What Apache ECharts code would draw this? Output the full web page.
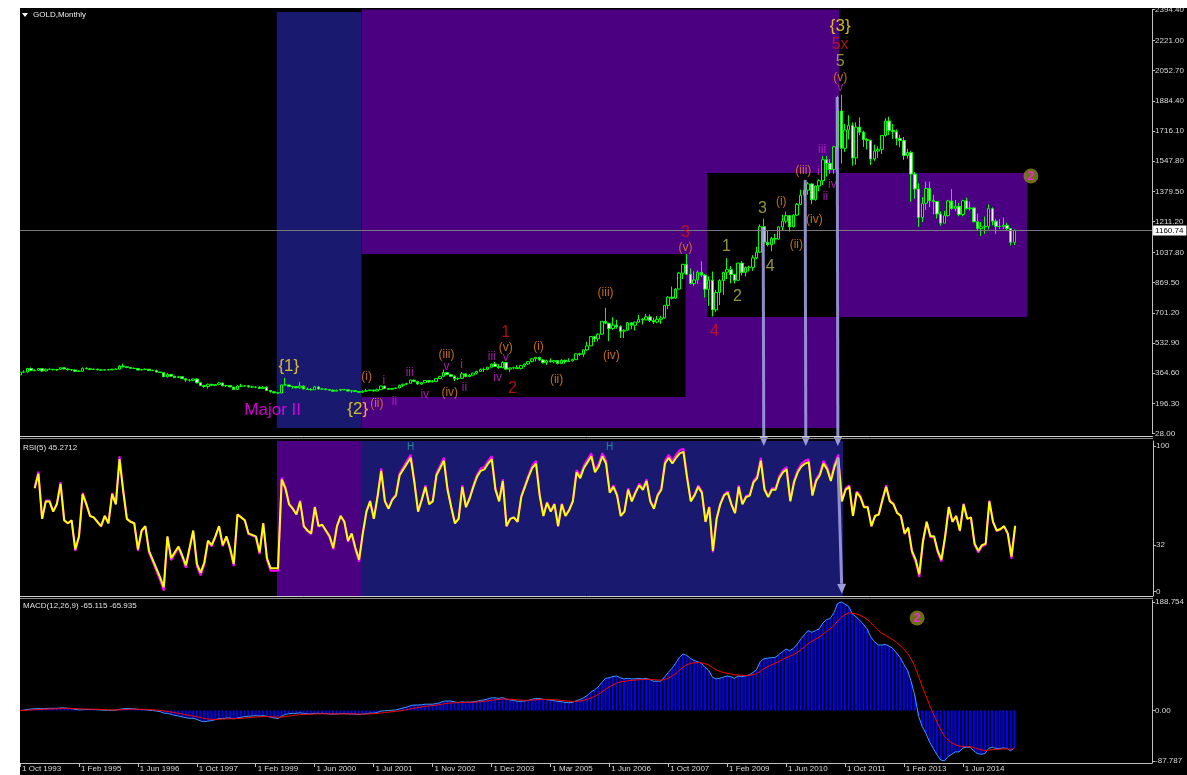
<!DOCTYPE html>
<html><head><meta charset="utf-8">
<script src="https://cdn.jsdelivr.net/npm/echarts@6/dist/echarts.min.js"></script>
<style>html,body{margin:0;padding:0;background:#fff;}#c{width:1187px;height:775px;}</style>
</head><body><div id="c"></div>
<script>
// ---------------- DATA ----------------
const tickLabels = ['1 Oct 1993','1 Feb 1995','1 Jun 1996','1 Oct 1997','1 Feb 1999','1 Jun 2000','1 Jul 2001','1 Nov 2002','1 Dec 2003','1 Mar 2005','1 Jun 2006','1 Oct 2007','1 Feb 2009','1 Jun 2010','1 Oct 2011','1 Feb 2013','1 Jun 2014'];
const barsPerLabel = 16;
const priceTicks = [28,196.3,364.6,532.9,701.2,869.5,1037.8,1211.2,1379.5,1547.8,1716.1,1884.4,2052.7,2221.0,2394.4];
const rsiTicks = [0,32,100];
const macdTicks = [-87.787,0,188.754];
const bid = 1160.74;
// monthly candles [open, close, low, high]
const candles = [
[355,370,352,372],[370,371,367,380],[371,391,368,392],[391,379,376,396],[379,381,375,386],[381,390,377,392],[390,377,371,392],[377,387,375,389],[387,386,383,392],[386,384,380,389],
[384,386,377,387],[386,395,386,398],[395,388,386,397],[388,384,379,392],[384,383,376,385],[383,375,372,384],[375,376,371,381],[376,392,373,396],[392,389,387,397],[389,385,383,393],
[385,387,385,391],[387,383,381,390],[383,382,380,387],[382,384,381,386],[384,383,381,387],[383,387,382,389],[387,387,385,389],[387,405,387,410],[405,400,398,417],[400,396,393,400],
[396,392,389,397],[392,391,389,395],[391,382,381,391],[382,385,381,389],[385,387,384,390],[387,379,377,388],[379,379,377,385],[379,371,370,384],[371,369,366,373],[369,345,345,370],
[345,358,340,366],[358,348,347,359],[348,340,337,348],[340,345,338,350],[345,334,333,346],[334,326,316,335],[326,325,318,331],[325,332,320,334],[332,311,307,336],[311,296,295,315],
[296,290,283,300],[290,303,278,306],[303,297,294,304],[297,301,292,303],[301,310,300,316],[310,294,292,311],[294,296,287,300],[296,288,287,297],[288,273,272,289],[273,293,272,298],
[293,292,287,305],[292,294,290,299],[294,288,285,298],[288,287,283,294],[287,287,281,292],[287,279,277,291],[279,286,278,292],[286,268,267,291],[268,261,257,270],[261,255,252,265],
[255,254,251,258],[254,299,253,300],[299,299,295,338],[299,291,288,300],[291,290,278,294],[290,283,280,292],[283,293,279,316],[293,276,275,297],[276,274,272,284],[274,272,268,281],
[272,288,271,294],[288,276,275,291],[276,277,271,281],[277,273,269,280],[273,270,268,275],[270,264,263,273],[264,270,263,272],[270,274,264,276],[274,272,270,276],[272,265,262,273],
[265,267,255,270],[267,262,260,268],[262,258,256,265],[258,264,255,268],[264,267,262,277],[267,271,265,273],[271,265,263,272],[265,273,264,278],[273,293,271,294],[293,279,276,293],
[279,275,271,280],[275,279,272,281],[279,282,277,284],[282,297,281,301],[297,303,288,305],[303,308,300,310],[308,326,307,328],[326,318,315,329],[318,304,301,322],[304,312,300,315],
[312,324,311,326],[324,316,312,325],[316,318,314,326],[318,335,317,336],[335,347,332,349],[347,368,342,385],[368,356,354,372],[356,347,343,360],[347,334,320,352],[334,336,326,341],
[336,361,333,371],[361,346,341,365],[346,354,342,359],[354,365,352,366],[365,375,357,378],[375,385,372,391],[385,386,371,396],[386,398,381,400],[398,416,397,417],[416,402,399,427],
[402,396,390,415],[396,424,392,431],[424,387,385,428],[387,394,371,396],[394,395,386,401],[395,391,387,409],[391,408,385,410],[408,416,398,418],[416,429,411,431],[429,445,425,447],
[445,453,430,455],[453,438,432,456],[438,423,418,443],[423,434,411,440],[434,428,425,447],[428,435,420,438],[435,418,414,437],[418,437,416,443],[437,429,418,439],[429,433,428,448],
[433,440,431,446],[440,473,438,474],[473,470,460,479],[470,495,456,497],[495,517,490,540],[517,569,516,570],[569,556,538,574],[556,582,542,587],[582,654,580,656],[654,643,639,730],
[643,614,543,645],[614,633,606,677],[633,624,613,663],[624,599,561,632],[599,604,560,610],[604,646,604,650],[646,632,610,649],[632,650,603,652],[650,665,646,690],[665,662,636,672],
[662,679,660,695],[679,659,650,692],[659,650,640,674],[650,665,643,683],[665,673,640,685],[673,743,670,745],[743,789,722,795],[789,783,776,848],[783,834,780,840],[834,923,832,930],
[923,972,890,975],[972,917,912,1030],[917,865,860,950],[865,885,851,934],[885,928,862,939],[928,912,902,989],[912,833,786,918],[833,884,740,905],[884,718,681,932],[718,815,705,829],
[815,882,745,889],[882,928,801,930],[928,942,890,1007],[942,916,866,963],[916,883,865,918],[883,979,882,980],[979,927,910,990],[927,954,905,960],[954,955,932,965],[955,1008,936,1023],
[1008,1040,1000,1070],[1040,1182,1035,1195],[1182,1096,1075,1227],[1096,1081,1072,1162],[1081,1117,1045,1126],[1117,1113,1087,1142],[1113,1180,1110,1185],[1180,1213,1160,1249],[1213,1244,1200,1266],[1244,1181,1155,1245],
[1181,1247,1179,1251],[1247,1307,1243,1314],[1307,1358,1307,1388],[1358,1386,1330,1424],[1386,1421,1360,1432],[1421,1333,1308,1424],[1333,1410,1328,1411],[1410,1439,1380,1447],[1439,1556,1415,1576],[1556,1536,1462,1577],
[1536,1501,1477,1560],[1501,1628,1478,1632],[1628,1828,1605,1913],[1828,1620,1535,1920],[1620,1722,1600,1755],[1722,1746,1670,1804],[1746,1566,1523,1764],[1566,1738,1528,1764],[1738,1710,1692,1792],[1710,1669,1627,1718],
[1669,1664,1613,1676],[1664,1560,1527,1667],[1560,1604,1550,1640],[1604,1614,1565,1631],[1614,1691,1588,1693],[1691,1772,1685,1788],[1772,1719,1694,1796],[1719,1712,1672,1755],[1712,1675,1636,1725],[1675,1663,1626,1695],
[1663,1579,1555,1683],[1579,1596,1562,1617],[1596,1476,1321,1605],[1476,1393,1338,1487],[1393,1234,1180,1424],[1234,1313,1208,1348],[1313,1395,1275,1434],[1395,1327,1291,1433],[1327,1323,1251,1361],[1323,1253,1227,1324],
[1253,1202,1187,1267],[1202,1244,1202,1270],[1244,1326,1238,1332],[1326,1284,1277,1392],[1284,1296,1268,1331],[1296,1250,1240,1315],[1250,1327,1240,1332],[1327,1282,1280,1345],[1282,1287,1273,1322],[1287,1210,1206,1291],
[1210,1172,1160,1255],[1172,1182,1131,1208],[1182,1184,1142,1239],[1184,1283,1167,1307],[1283,1213,1190,1290],[1213,1183,1142,1224],[1183,1184,1170,1224],[1184,1190,1169,1232],[1190,1172,1162,1205],[1172,1095,1077,1175],
[1095,1160.74,1080,1168]
];
const rsi5 = [null,null,null,null,
71,81,50,62,62,55,60,74,49,47,
49,29,38,67,60,52,51,48,45,52,
47,67,60,91,69,50,48,47,29,42,
45,28,22,16,10,3,38,23,27,31,
25,18,30,42,19,13,20,35,32,38,
45,32,38,30,19,53,51,49,40,39,
38,27,47,23,16,16,16,77,71,60,
57,53,62,45,42,40,58,45,46,42,
38,30,45,52,48,35,40,30,22,40,
55,62,50,65,83,62,57,63,66,80,
84,88,92,75,55,63,72,60,62,80,
85,90,70,58,47,50,72,58,64,72,
79,83,84,88,91,70,62,76,45,50,
51,48,65,72,79,85,88,66,52,61,
55,60,45,60,52,56,62,82,78,85,
89,93,82,86,93,88,68,72,66,52,
55,70,62,68,73,70,76,62,57,66,
70,88,92,88,92,95,96,78,62,66,
72,68,48,58,28,50,60,66,68,60,
54,72,60,65,66,75,78,90,70,65,
70,70,78,82,84,62,75,82,86,88,
89,66,76,80,88,84,76,86,92,62,
70,72,52,68,65,58,58,45,52,53,
63,72,62,60,54,52,40,44,28,22,
12,35,48,38,38,28,22,38,58,48,
52,42,60,50,51,33,28,32,33,62,
48,42,43,45,40,24,45.27];
const macdMain = [
0,0.5,2,2.5,3,3.5,3,3.5,3.8,3.8,
3.8,4.5,4.5,4,3.3,2,1,1.5,1.8,1.8,
1.8,1.3,0.8,0.6,0.3,0.4,0.5,2,3,3.5,
3.3,3,2,1.5,1.3,0.5,0,-1,-1.8,-4.5,
-5,-6.5,-8.5,-9.5,-11,-12.5,-13.5,-13.5,-15.5,-18,
-19.5,-18.5,-17.5,-16,-14,-14,-13,-13,-14.5,-13,
-12,-10.5,-10,-9.5,-9,-9.5,-9,-10,-11.5,-13,
-14,-10,-7,-5.5,-5,-5,-4,-5,-5.5,-6,
-5,-5,-5,-5.5,-6,-6.5,-6,-5.5,-5.5,-6,
-6,-6.5,-7,-6.5,-5.5,-4.5,-4.5,-3.5,-1,-0.5,
0,0.5,1,2.5,4.5,6,8.5,9.5,9.5,10,
11,11,11,12,13.5,16,16.5,16.5,15,14,
15,14.5,14.5,15,16,17.5,18.5,20,22,22,
21,22.5,20,18.5,17.5,16,16,16.5,17.5,19.5,
21,21,19.5,19,18,17.5,15.5,15.5,14,13.5,
14,17,19,22,26,32,36,41,49,56,
57,59,60,57,55,56,55,55,56,55,
56,54,51,51,51,58,66,73,82,92,
98,96,91,87,85,82,75,70,58,55,
56,58,60,59,56,60,59,60,62,66,
71,85,90,91,92,92,97,102,107,104,
108,115,124,132,139,136,139,142,152,158,
160,170,186,188.754,185,181,168,163,157,150,
142,128,120,114,114,115,112,108,100,92,
80,70,50,25,-10,-28,-40,-55,-66,-77,
-86,-87.787,-80,-76,-72,-72,-65,-64,-64,-70,
-75,-76,-75,-66,-64,-66,-66,-65,-66,-70,
-65.115];
const macdSignal = [
0,0.1,0.5,0.9,1.3,1.7,2,2.3,2.6,2.8,
3,3.3,3.5,3.6,3.6,3.3,2.9,2.6,2.4,2.3,
2.2,2,1.8,1.5,1.3,1.1,1,1.2,1.5,1.9,
2.2,2.3,2.2,2.1,1.9,1.6,1.3,0.8,0.3,-0.7,
-1.6,-2.6,-3.8,-4.9,-6.1,-7.4,-8.6,-9.6,-10.8,-12.2,
-13.7,-14.7,-15.3,-15.5,-15.2,-15,-14.6,-14.3,-14.3,-14,
-13.6,-13,-12.4,-11.8,-11.3,-10.9,-10.6,-10.5,-10.7,-11.1,
-11.7,-11.4,-10.5,-9.5,-8.6,-7.9,-7.1,-6.7,-6.5,-6.4,
-6.1,-5.9,-5.7,-5.7,-5.8,-5.9,-6,-5.9,-5.8,-5.8,
-5.8,-6,-6.2,-6.3,-6.1,-5.8,-5.5,-5.1,-4.3,-3.5,
-2.8,-2.1,-1.5,-0.7,0.3,1.4,2.8,4.1,5.2,6.2,
7.2,8,8.6,9.3,10.2,11.4,12.4,13.2,13.6,13.7,
14,14.1,14.2,14.4,14.7,15.3,16,16.8,17.8,18.7,
19.1,19.8,19.8,19.5,19.1,18.5,18,17.7,17.7,18.1,
18.7,19.1,19.2,19.2,19,18.7,18.1,17.5,16.8,16.1,
15.7,15.9,16.5,17.6,19.3,21.8,24.6,27.9,32.1,36.9,
40.9,44.5,47.6,49.5,50.6,51.7,52.4,52.9,53.5,53.8,
54.2,54.2,53.6,53.1,52.7,53.8,56.2,59.6,64,69.6,
75.3,79.5,81.8,82.9,83.3,83,81.4,79.1,74.9,70.9,
67.9,66,64.8,63.6,62.1,61.7,61.2,60.9,61.2,62.2,
64,68.2,72.6,76.2,79.4,81.9,84.9,88.3,92,94.4,
97.1,100.7,105.4,110.7,116.4,120.3,124,127.6,132.5,137.6,
142.1,147.7,155.4,162.1,166.7,169.6,169.3,168.1,165.9,162.7,
158.6,152.5,146,139.6,134.5,130.6,126.9,123.1,118.5,113.2,
106.6,99.3,89.4,76.5,59.2,41.8,25.4,9.3,-5.8,-20,
-33.2,-44.1,-51.3,-56.2,-59.4,-61.9,-62.5,-62.8,-63,-64.4,
-66.5,-68.4,-69.7,-69,-68,-67.6,-67.3,-66.9,-66.7,-67.4,
-65.935];
// Elliott-wave annotations: [text, bar, price, style]
const notes = [
['{1}',73.0,405,'curly'],['Major II',68.6,159,'major'],['{2}',91.7,165,'curly'],
['(i)',94.1,343,'orange'],['(ii)',96.9,193,'orange'],['i',98.8,321,'mag'],['ii',101.7,204,'mag'],
['iii',105.8,366,'mag'],['iv',109.9,243,'mag'],['(iii)',115.8,466,'orange'],['v',115.8,399,'mag'],
['(iv)',116.7,254,'orange'],['i',119.9,410,'mag'],['ii',120.7,282,'mag'],['iii',128.1,455,'mag'],
['iv',129.7,338,'mag'],['1',131.9,589,'red'],['(v)',131.9,505,'orange'],['v',131.9,449,'mag'],
['2',133.7,276,'red'],['(i)',140.8,511,'orange'],['(ii)',145.7,327,'orange'],['(iii)',159,812,'orange'],
['(iv)',160.6,460,'orange'],['3',180.7,1147,'red'],['(v)',180.7,1063,'orange'],['4',188.6,594,'red'],
['1',191.8,1069,'olive'],['2',194.8,790,'olive'],['3',201.6,1281,'olive'],['4',203.7,957,'olive'],
['(i)',206.7,1320,'orange'],['(ii)',210.8,1080,'orange'],['(iii)',212.7,1493,'orange'],['(iv)',215.7,1220,'orange'],
['i',216.8,1487,'mag'],['ii',218.7,1348,'mag'],['iv',220.6,1415,'mag'],['iii',217.8,1610,'mag'],
['{3}',222.7,2302,'curly'],['5x',222.7,2196,'red'],['5',222.7,2101,'olive'],['(v)',222.7,2012,'orange'],['v',222.7,1956,'mag']
];
const rsiHighs = [[106,99],[160,99]];
const markersMain = [[274.5,1465]];
const markersMacd = [[243.6,161]];
// arrows: [gridIndex, bar, value] -> [gridIndex, bar, value]
const arrows = [
 [[0,201.8,1175],[1,201.8,100]],
 [[0,213.2,1443],[1,213.2,100]],
 [[0,221.9,1906],[1,221.9,100]],
 [[1,221.9,92],[1,223,-1.5]]
];
// zones (bar range, value range)
const mainZones = [
 [69.72,92.78,58.7,2380,'#191970'],
 [92.78,222.46,58.7,2394.4,'#4b0082'],
 [92.78,180.7,231.7,1029.8,'#000000'],
 [186.65,222.46,678.2,1481.9,'#000000'],
 [222.46,273.47,678.2,1481.9,'#4b0082']
];
const rsiZones = [
 [69.72,92.78,'#4b0082'],
 [92.78,223.3,'#191970']
];

// ---------------- CHART ----------------
const FONT = 'Liberation Sans';
const styles = {
 curly:{color:'#ffe41c',size:17}, major:{color:'#ff00ff',size:17}, red:{color:'#d81414',size:16},
 olive:{color:'#b8b84c',size:16}, orange:{color:'#ef8a1c',size:12}, mag:{color:'#cc22cc',size:12}
};
const X_MAX = 307.4;
const labelColor = '#d8d8d8';
const axisColor = '#c0c0c0';
const tickBars = tickLabels.map((_, i) => i * barsPerLabel);

function xAxisCfg(g, showLabels){
  return {type:'value', gridIndex:g, min:0, max:X_MAX, splitLine:{show:false},
    show: showLabels,
    axisLine:{show:true, onZero:false, lineStyle:{color:axisColor}},
    axisTick:{show:true, customValues:tickBars, length:4, lineStyle:{color:axisColor}},
    axisLabel:{show:true, customValues:tickBars, align:'left', margin:2, padding:[0,0,0,2],
      color:labelColor, fontSize:8, fontFamily:FONT,
      formatter:v => tickLabels[Math.round(v / barsPerLabel)] || ''}};
}
function yAxisCfg(g, min, max, ticks, fmt){
  return {type:'value', gridIndex:g, position:'right', min, max, splitLine:{show:false},
    axisLine:{show:true, onZero:false, lineStyle:{color:axisColor}},
    axisTick:{show:true, customValues:ticks, length:3, lineStyle:{color:axisColor}},
    axisLabel:{show:true, customValues:ticks, margin:3, color:labelColor, fontSize:8, fontFamily:FONT, formatter:fmt}};
}

const chart = echarts.init(document.getElementById('c'), null, {renderer:'canvas'});
const option = {
  backgroundColor:'#000',
  animation:false,
  grid:[
    {left:20, right:34, top:9.5, height:424},
    {left:20, right:34, top:441, height:155},
    {left:20, right:34, top:600, height:163}
  ],
  xAxis:[xAxisCfg(0,false), xAxisCfg(1,false), xAxisCfg(2,true)],
  yAxis:[
    yAxisCfg(0, 28, 2394.4, priceTicks, v => v.toFixed(2)),
    yAxisCfg(1, -3, 103.5, rsiTicks, v => String(v)),
    {type:'value', gridIndex:1, min:-0.45, max:100.95, show:false, axisLine:{onZero:false}},
    yAxisCfg(2, -91.3, 192.2, macdTicks, v => v === 0 ? '0.00' : v.toFixed(3))
  ],
  series:[
    {type:'line', xAxisIndex:0, yAxisIndex:0, data:[], z:0, silent:true,
      markArea:{silent:true, data: mainZones.map(z => [{xAxis:z[0], yAxis:z[2], itemStyle:{color:z[4], opacity:1}}, {xAxis:z[1], yAxis:z[3]}])}},
    {type:'line', xAxisIndex:1, yAxisIndex:1, data:[], z:0, silent:true,
      markArea:{silent:true, data: rsiZones.map(z => [{xAxis:z[0], yAxis:-3, itemStyle:{color:z[2], opacity:1}}, {xAxis:z[1], yAxis:103.5}])}},
    {type:'candlestick', xAxisIndex:0, yAxisIndex:0, z:3,
      data: candles.map((c, i) => [i, c[0], c[1], c[2], c[3]]),
      encode:{x:0, y:[1,2,3,4]}, barWidth:3,
      itemStyle:{color:'#000000', color0:'#ffffff', borderColor:'#00ff00', borderColor0:'#00ff00', borderWidth:1},
      markLine:{silent:true, symbol:'none', animation:false,
        lineStyle:{color:'#7a7a7a', type:'solid', width:1},
        label:{position:'end', formatter:bid.toFixed(2), color:'#000', backgroundColor:'#ffffff', fontSize:8, fontFamily:FONT, padding:[1,3,1,2], distance:1},
        data:[{yAxis:bid}]}},
    {type:'line', xAxisIndex:1, yAxisIndex:2, z:3, showSymbol:false, silent:true,
      data: rsi5.map((v, i) => [i, v]), lineStyle:{color:'#ff00ff', width:2}},
    {type:'line', xAxisIndex:1, yAxisIndex:1, z:4, showSymbol:false, silent:true,
      data: rsi5.map((v, i) => [i, v]), lineStyle:{color:'#ffff00', width:2}},
    {type:'bar', xAxisIndex:2, yAxisIndex:3, z:3, barWidth:2, silent:true,
      data: macdMain.map((v, i) => [i, v]), itemStyle:{color:'#0000ff'}},
    {type:'line', xAxisIndex:2, yAxisIndex:3, z:4, showSymbol:false, silent:true,
      data: macdMain.map((v, i) => [i, v]), lineStyle:{color:'#3a9cff', width:1}},
    {type:'line', xAxisIndex:2, yAxisIndex:3, z:5, showSymbol:false, silent:true,
      data: macdSignal.map((v, i) => [i, v]), lineStyle:{color:'#ff0000', width:1}},
    {type:'scatter', xAxisIndex:0, yAxisIndex:0, z:10, silent:true, clip:false, symbolSize:1,
      itemStyle:{color:'rgba(0,0,0,0)'},
      label:{show:true, position:'inside'},
      data: notes.map(n => ({value:[n[1], n[2]], label:{show:true, position:'inside', formatter:n[0],
        color:styles[n[3]].color, fontSize:styles[n[3]].size, fontFamily:FONT}}))},
    {type:'scatter', xAxisIndex:1, yAxisIndex:1, z:10, silent:true, clip:false, symbolSize:1,
      itemStyle:{color:'rgba(0,0,0,0)'},
      data: rsiHighs.map(h => ({value:h, label:{show:true, position:'inside', formatter:'H', color:'#1fa89a', fontSize:10, fontFamily:FONT}}))},
    {type:'scatter', xAxisIndex:0, yAxisIndex:0, z:11, silent:true, clip:false, symbol:'circle', symbolSize:15,
      itemStyle:{color:'#8a8a1c'},
      label:{show:true, position:'inside', formatter:'2', color:'#ff22ff', fontSize:13, fontWeight:'bold', fontFamily:FONT},
      data: markersMain},
    {type:'scatter', xAxisIndex:2, yAxisIndex:3, z:11, silent:true, clip:false, symbol:'circle', symbolSize:15,
      itemStyle:{color:'#8a8a1c'},
      label:{show:true, position:'inside', formatter:'2', color:'#ff22ff', fontSize:13, fontWeight:'bold', fontFamily:FONT},
      data: markersMacd}
  ]
};
chart.setOption(option);

// chrome + arrows
function px(p){
  const g = p[0];
  const finder = g === 0 ? {xAxisIndex:0, yAxisIndex:0} : (g === 1 ? {xAxisIndex:1, yAxisIndex:1} : {xAxisIndex:2, yAxisIndex:3});
  return chart.convertToPixel(finder, [p[1], p[2]]);
}
const graphics = [
  {type:'rect', shape:{x:0, y:0, width:1187, height:8}, style:{fill:'#fff'}, z:100},
  {type:'rect', shape:{x:0, y:0, width:20, height:775}, style:{fill:'#fff'}, z:100},
  {type:'line', shape:{x1:20, y1:436.5, x2:1153, y2:436.5}, style:{stroke:'#d0d0d0', lineWidth:1}, z:50},
  {type:'line', shape:{x1:20, y1:438.5, x2:1153, y2:438.5}, style:{stroke:'#8a8a8a', lineWidth:1}, z:50},
  {type:'line', shape:{x1:20, y1:596.5, x2:1153, y2:596.5}, style:{stroke:'#d0d0d0', lineWidth:1}, z:50},
  {type:'line', shape:{x1:20, y1:598.5, x2:1153, y2:598.5}, style:{stroke:'#8a8a8a', lineWidth:1}, z:50},
  {type:'polygon', shape:{points:[[22,13],[28,13],[25,17]]}, style:{fill:'#fff'}, z:60},
  {type:'text', x:33, y:15, style:{text:'GOLD,Monthly', fill:'#f0f0f0', font:'8px ' + FONT, textVerticalAlign:'middle'}, z:60},
  {type:'text', x:23, y:448, style:{text:'RSI(5) 45.2712', fill:'#e0e0e0', font:'8px ' + FONT, textVerticalAlign:'middle'}, z:60},
  {type:'text', x:23, y:606, style:{text:'MACD(12,26,9) -65.115 -65.935', fill:'#e0e0e0', font:'8px ' + FONT, textVerticalAlign:'middle'}, z:60}
];
arrows.forEach(a => {
  const p1 = px(a[0]), p2 = px(a[1]);
  const ang = Math.atan2(p2[1] - p1[1], p2[0] - p1[0]);
  const L = 10, W = 4.5;
  const bx = p2[0] - L * Math.cos(ang), by = p2[1] - L * Math.sin(ang);
  graphics.push({type:'line', shape:{x1:p1[0], y1:p1[1], x2:bx, y2:by}, style:{stroke:'#9c9cdc', lineWidth:3, opacity:0.9}, z:20});
  graphics.push({type:'polygon', shape:{points:[[p2[0], p2[1]], [bx + W * Math.sin(ang), by - W * Math.cos(ang)], [bx - W * Math.sin(ang), by + W * Math.cos(ang)]]}, style:{fill:'#9c9cdc'}, z:20});
});
chart.setOption({graphic:graphics});
</script></body></html>
